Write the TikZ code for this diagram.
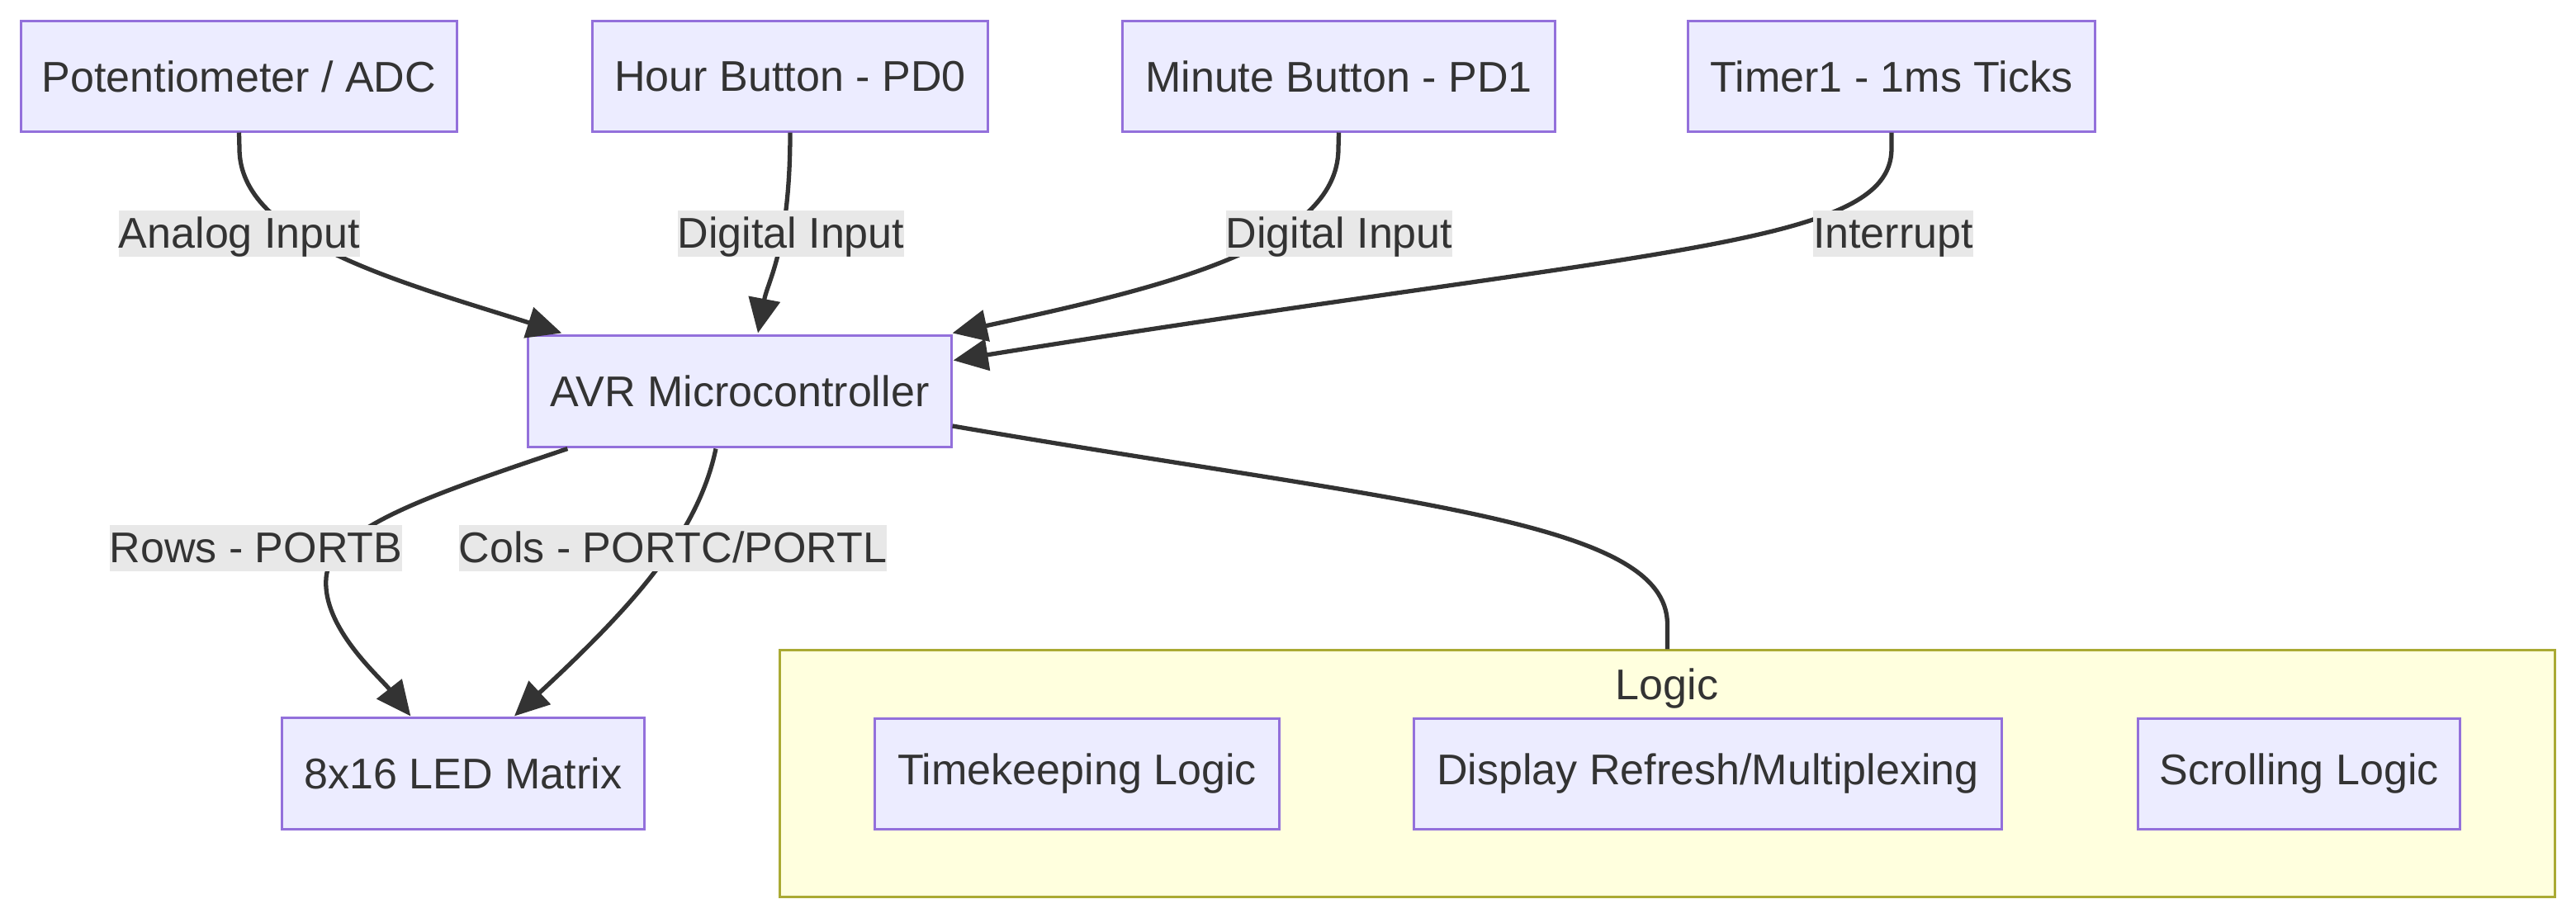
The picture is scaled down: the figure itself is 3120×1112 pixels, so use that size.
\documentclass[tikz,border=0pt]{standalone}
\usepackage{fontspec}
\setmainfont{Liberation Sans}
\usetikzlibrary{arrows.meta,calc}
\definecolor{nodefill}{HTML}{ECECFF}
\definecolor{nodeline}{HTML}{9370DB}
\definecolor{clfill}{HTML}{FFFFDE}
\definecolor{clline}{HTML}{AAAA33}
\definecolor{edgecol}{HTML}{333333}
\definecolor{lblbg}{HTML}{E8E8E8}
\begin{document}
\begin{tikzpicture}[x=0.01cm,y=-0.01cm,
  font=\fontsize{14.8}{17}\selectfont,
  box/.style={draw=nodeline, fill=nodefill, line width=0.85pt, minimum height=1.33cm, inner sep=0pt, text=edgecol},
  cluster/.style={draw=clline, fill=clfill, line width=0.85pt, inner sep=0pt},
  lbl/.style={fill=lblbg, inner xsep=0pt, inner ysep=0pt, text height=0.45cm, text depth=0.11cm, text=edgecol},
  conn/.style={draw=edgecol, line width=1.5pt},
  arr/.style={conn, -{Triangle[length=0.42cm,width=0.38cm]}}
]
\useasboundingbox (0,0) rectangle (3120,1112);

% cluster
\node[cluster, minimum width=21.49cm, minimum height=2.98cm] (logic) at (2019.5,937) {};
\node[text=edgecol] (logictitle) at (2019,834) {Logic};

% nodes
\node[box, minimum width=5.27cm] (pot) at (289.5,92.5) {Potentiometer / ADC};
\node[box, minimum width=4.78cm] (hour) at (957,92.5) {Hour Button - PD0};
\node[box, minimum width=5.23cm] (minb) at (1621.5,92.5) {Minute Button - PD1};
\node[box, minimum width=4.92cm] (tim) at (2291,92.5) {Timer1 - 1ms Ticks};
\node[box, minimum width=5.12cm, minimum height=1.34cm] (avr) at (896,474) {AVR Microcontroller};
\node[box, minimum width=4.38cm, minimum height=1.34cm] (led) at (561,937) {8x16 LED Matrix};
\node[box, minimum width=4.89cm] (timek) at (1304.5,937.5) {Timekeeping Logic};
\node[box, minimum width=7.11cm] (disp) at (2068.5,937.5) {Display Refresh/Multiplexing};
\node[box, minimum width=3.89cm] (scroll) at (2784.5,937.5) {Scrolling Logic};

% connectors
\draw[arr] (pot.south) -- (290,180) .. controls (290,290) and (480,340) .. ($(avr.north west)+(42,-2)$);
\draw[arr] (hour.south) .. controls (957,300) and (930,340) .. ($(avr.north)+(22,-2)$);
\draw[arr] (minb.south) -- (1621,180) .. controls (1621,300) and (1400,350) .. ($(avr.north east)+(0,-2)$);
\draw[arr] (tim.south) -- (2291,180) .. controls (2291,300) and (2000,300) .. ($(avr.north east)+(1,31)$);
\draw[arr] ($(avr.south west)+(49,1)$) .. controls (520,600) and (400,640) .. (395,700)
  .. controls (390,760) and (460,820) .. ($(led.north west)+(157,-1)$);
\draw[arr] ($(avr.south)+(-29,1)$) .. controls (845,650) and (760,740) .. ($(led.north)+(62,-1)$);
\draw[conn] ($(avr.east)+(0,42)$) .. controls (1700,610) and (2019.5,630) .. ($(logic.north)+(0,-30)$) -- (logic.north);

% edge labels
\node[lbl] (l1) at (290,283) {Analog Input};
\node[lbl] (l2) at (958,283) {Digital Input};
\node[lbl] (l3) at (1622,283) {Digital Input};
\node[lbl] (l4) at (2293,283) {Interrupt};
\node[lbl] (l5) at (310,664) {Rows - PORTB};
\node[lbl] (l6) at (815,664) {Cols - PORTC/PORTL};
\end{tikzpicture}
\end{document}
